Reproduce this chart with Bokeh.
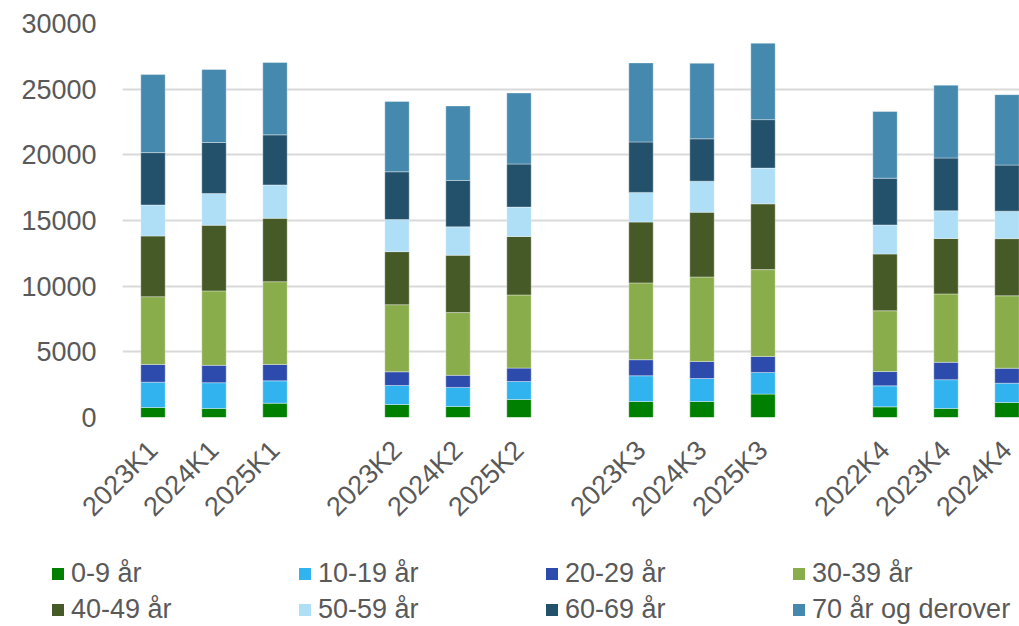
import math
from bokeh.plotting import figure
from bokeh.layouts import column
from bokeh.models import (Range1d, FixedTicker, NumeralTickFormatter, Legend, LegendItem,
                          ColumnDataSource)
from bokeh.embed import file_html
from bokeh.resources import INLINE

quarters = ["2023K1", "2024K1", "2025K1", "2023K2", "2024K2", "2025K2",
            "2023K3", "2024K3", "2025K3", "2022K4", "2023K4", "2024K4"]

series_names = ["0-9 år", "10-19 år", "20-29 år", "30-39 år",
                "40-49 år", "50-59 år", "60-69 år", "70 år og derover"]

a0_9 = [760, 690, 1090, 990, 840, 1370, 1220, 1220, 1780, 810, 690, 1140]
a10_19 = [1930, 1960, 1700, 1450, 1450, 1370, 1960, 1750, 1650, 1600, 2190, 1470]
a20_29 = [1350, 1320, 1250, 1040, 920, 1020, 1220, 1300, 1220, 1090, 1320, 1140]
a30_39 = [5160, 5670, 6300, 5110, 4780, 5570, 5850, 6430, 6610, 4630, 5210, 5520]
a40_49 = [4620, 5000, 4830, 4040, 4370, 4450, 4630, 4930, 5010, 4320, 4220, 4350]
a50_59 = [2360, 2410, 2540, 2440, 2160, 2240, 2260, 2360, 2720, 2210, 2110, 2090]
a60_69 = [3990, 3890, 3810, 3640, 3530, 3280, 3840, 3230, 3690, 3560, 4020, 3510]
a70 = [5940, 5560, 5510, 5360, 5670, 5410, 6020, 5750, 5820, 5080, 5540, 5360]

y_ticks = [0, 5000, 10000, 15000, 20000, 25000, 30000]

colors = ["#008000", "#30B3EF", "#2D4BAD", "#8AAD4B",
          "#465A27", "#AEDFF7", "#23516B", "#4589AE"]

# slot positions: groups of three bars separated by one empty slot
xpos = [i + i // 3 for i in range(len(quarters))]

keys = ["s0", "s1", "s2", "s3", "s4", "s5", "s6", "s7"]
data = dict(x=xpos)
for k, arr in zip(keys, [a0_9, a10_19, a20_29, a30_39, a40_49, a50_59, a60_69, a70]):
    data[k] = arr
source = ColumnDataSource(data)

FONT = "Liberation Sans"
TXT = "#595959"

W = 1019
H1, H2 = 554, 72
left_b, top_b = 122, 23
bottom_b = H1 - 417
slot_px = 61.0
frame_w = W - left_b
x_start = -0.5
x_end = x_start + frame_w / slot_px

p = figure(width=W, height=H1, output_backend="svg", toolbar_location=None,
           x_range=Range1d(x_start, x_end), y_range=Range1d(0, 30000),
           min_border_left=left_b, min_border_right=0,
           min_border_top=top_b, min_border_bottom=bottom_b)
p.outline_line_color = None
p.background_fill_color = "white"

p.vbar_stack(keys, x="x", width=0.4, source=source, color=colors,
             line_color="white", line_width=0.6, line_alpha=0.6)

# axes
p.yaxis.ticker = FixedTicker(ticks=y_ticks)
p.yaxis.formatter = NumeralTickFormatter(format="0")
p.yaxis.axis_line_color = None
p.yaxis.major_tick_line_color = None
p.yaxis.minor_tick_line_color = None
p.yaxis.major_label_text_font = FONT
p.yaxis.major_label_text_font_size = "27px"
p.yaxis.major_label_text_color = TXT
p.yaxis.major_label_standoff = 20

p.xaxis.ticker = FixedTicker(ticks=xpos)
p.xaxis.major_label_overrides = {x: q for x, q in zip(xpos, quarters)}
p.xaxis.axis_line_color = None
p.xaxis.major_tick_line_color = None
p.xaxis.minor_tick_line_color = None
p.xaxis.major_label_orientation = math.pi / 4
p.xaxis.major_label_text_font = FONT
p.xaxis.major_label_text_font_size = "27px"
p.xaxis.major_label_text_color = TXT
p.xaxis.major_label_standoff = 22

p.xgrid.grid_line_color = None
p.ygrid.ticker = FixedTicker(ticks=y_ticks)
p.ygrid.grid_line_color = "#D9D9D9"
p.ygrid.grid_line_width = 2

# legend figure: hidden copies of the stacked bars serve as legend proxies
p2 = figure(width=W, height=H2, output_backend="svg", toolbar_location=None,
            x_range=Range1d(0, 1), y_range=Range1d(0, 1),
            min_border_left=0, min_border_right=0, min_border_top=0, min_border_bottom=0)
p2.axis.visible = False
p2.grid.visible = False
p2.outline_line_color = None
lrs = p2.vbar_stack(keys, x="x", width=0.4, source=source, color=colors,
                    line_color=None)
for r in lrs:
    r.visible = False

for fig in (p, p2):
    try:
        fig.frame_align = False
    except Exception:
        pass

items = [LegendItem(label=n, renderers=[r]) for n, r in zip(series_names, lrs)]
legend = Legend(items=items, ncols=4, nrows=2, orientation="horizontal",
                location=(50, 1), padding=0, margin=0, spacing=5,
                border_line_color=None, background_fill_alpha=0,
                glyph_width=15, glyph_height=15, label_standoff=6,
                label_width=221, label_height=30,
                label_text_font=FONT, label_text_font_size="27px",
                label_text_color=TXT)
legend.click_policy = "none"
p2.add_layout(legend)

layout = column(p, p2, spacing=0)
open("out.html", "w").write(file_html(layout, INLINE))
